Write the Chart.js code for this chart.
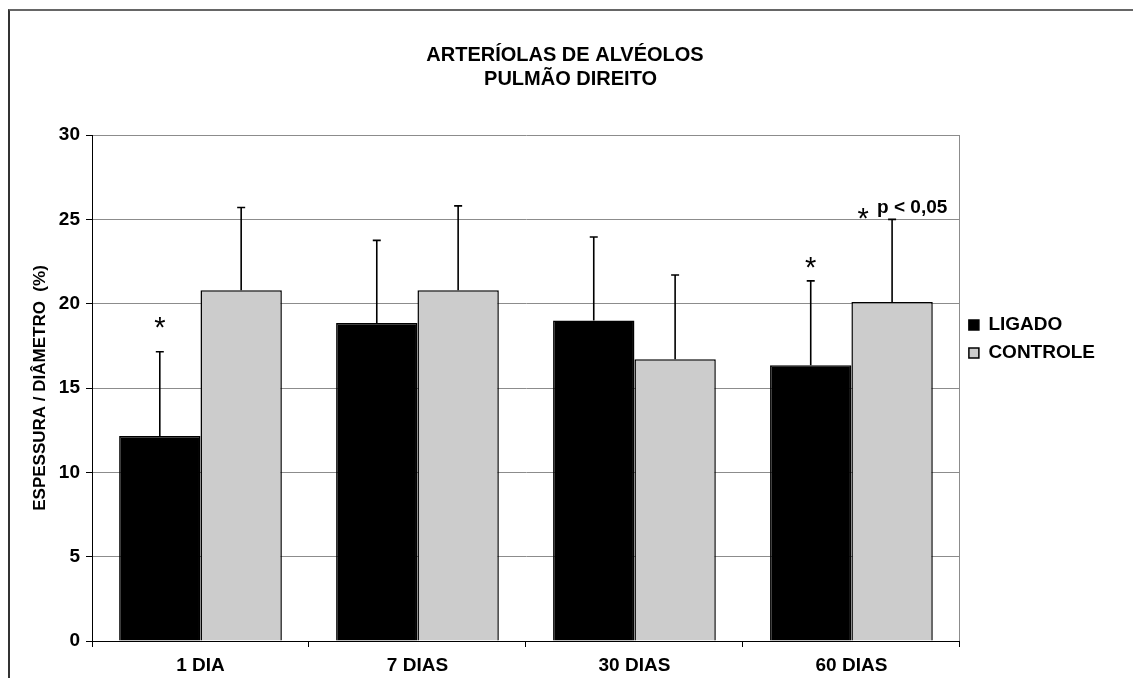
<!DOCTYPE html>
<html>
<head>
<meta charset="utf-8">
<script src="https://cdn.jsdelivr.net/npm/chart.js@4.4.0/dist/chart.umd.min.js"></script>
<style>
  body { margin: 0; background: #fff; overflow: hidden; }
  #frame { position: absolute; left: 8px; top: 9px; right: 9px; bottom: -10px;
           border-left: 2px solid #333; border-top: 2px solid #666; }
  #chart { position: absolute; left: 0; top: 0; }
</style>
</head>
<body>
<div id="frame"></div>
<canvas id="chart" width="1142" height="678"></canvas>
<script>
// values
var categories = ['1 DIA', '7 DIAS', '30 DIAS', '60 DIAS'];
var ligado = [12.15, 18.85, 19.0, 16.35];
var ligadoErr = [5.0, 4.9, 4.95, 5.0];
var controle = [20.8, 20.8, 16.7, 20.1];
var controleErr = [4.9, 5.0, 5.0, 4.9];
var yTicks = [0, 5, 10, 15, 20, 25, 30];

// significance marks: height (in %) where the asterisk sits, per category
var ligadoStars = [19.05, null, null, 22.6];
var noteText = 'p < 0,05';
var noteLevel = 25.7;

var FONT = "'Liberation Sans', Arial, sans-serif";
Chart.defaults.font.family = FONT;
Chart.defaults.color = '#000';

// upward error bars with a small cap
var errorBars = {
    id: 'errorBars',
    afterDatasetsDraw: function(chart) {
        var ctx = chart.ctx;
        var yScale = chart.scales.y;
        ctx.save();
        ctx.strokeStyle = '#000';
        ctx.lineWidth = 1.6;
        chart.data.datasets.forEach(function(ds, i) {
            var meta = chart.getDatasetMeta(i);
            meta.data.forEach(function(bar, j) {
                var top = yScale.getPixelForValue(ds.data[j] + ds.errors[j]);
                ctx.beginPath();
                ctx.moveTo(bar.x, bar.y);
                ctx.lineTo(bar.x, top);
                ctx.moveTo(bar.x - 4, top);
                ctx.lineTo(bar.x + 4, top);
                ctx.stroke();
            });
        });
        ctx.restore();
    }
};

// asterisks and the p-value note
var marks = {
    id: 'marks',
    afterDatasetsDraw: function(chart) {
        var ctx = chart.ctx;
        var yScale = chart.scales.y;
        var ligMeta = chart.getDatasetMeta(0);
        var conMeta = chart.getDatasetMeta(1);
        ctx.save();
        ctx.fillStyle = '#000';
        ctx.textAlign = 'center';
        ctx.textBaseline = 'alphabetic';
        ctx.font = '29px ' + FONT;
        ligadoStars.forEach(function(v, j) {
            if (v === null) return;
            ctx.fillText('*', ligMeta.data[j].x, yScale.getPixelForValue(v) + 17);
        });
        var last = conMeta.data[categories.length - 1];
        var ny = yScale.getPixelForValue(noteLevel);
        ctx.fillText('*', last.x - 29, ny + 20);
        ctx.textAlign = 'left';
        ctx.textBaseline = 'middle';
        ctx.font = 'bold 19px ' + FONT;
        ctx.fillText(noteText, last.x - 15, ny);
        ctx.restore();
    }
};

new Chart(document.getElementById('chart'), {
    type: 'bar',
    data: {
        labels: categories,
        datasets: [{
            label: 'LIGADO',
            data: ligado,
            errors: ligadoErr,
            backgroundColor: '#000000',
            borderColor: '#000000',
            borderWidth: 1.5
        }, {
            label: 'CONTROLE',
            data: controle,
            errors: controleErr,
            backgroundColor: '#cccccc',
            borderColor: '#000000',
            borderWidth: 1.5
        }]
    },
    options: {
        responsive: false,
        animation: false,
        layout: { padding: { left: 25, right: 37, top: 0, bottom: 0 } },
        datasets: { bar: { categoryPercentage: 0.75, barPercentage: 1.0 } },
        plugins: {
            title: {
                display: true,
                text: ['ARTERÍOLAS DE ALVÉOLOS', '  PULMÃO DIREITO'],
                color: '#000',
                font: { size: 20, weight: 'bold', lineHeight: 1.2 },
                padding: { top: 43, bottom: 44 }
            },
            legend: {
                position: 'right',
                labels: {
                    boxWidth: 10,
                    boxHeight: 10,
                    padding: 9,
                    color: '#000',
                    font: { size: 19, weight: 'bold' }
                }
            },
            tooltip: { enabled: false }
        },
        scales: {
            x: {
                afterFit: function(scale) { scale.height = 37; },
                border: { color: '#000', width: 1 },
                grid: {
                    // only the right edge of the plot gets a line
                    color: function(c) { return c.tick ? 'rgba(0,0,0,0)' : '#8c8c8c'; },
                    tickColor: '#000',
                    tickLength: 6
                },
                ticks: { padding: 7, font: { size: 19, weight: 'bold' } }
            },
            y: {
                min: 0,
                max: 30,
                afterFit: function(scale) { scale.width = 67; },
                afterBuildTicks: function(scale) {
                    scale.ticks = yTicks.map(function(v) { return { value: v }; });
                },
                border: { color: '#000', width: 1 },
                grid: { color: '#8c8c8c', tickColor: '#000', tickLength: 6 },
                ticks: { padding: 6, font: { size: 19, weight: 'bold' } },
                title: {
                    display: true,
                    text: 'ESPESSURA / DIÂMETRO  (%)',
                    font: { size: 17, weight: 'bold' },
                    padding: { top: 5, bottom: 0 }
                }
            }
        }
    },
    plugins: [errorBars, marks]
});
</script>
</body>
</html>
